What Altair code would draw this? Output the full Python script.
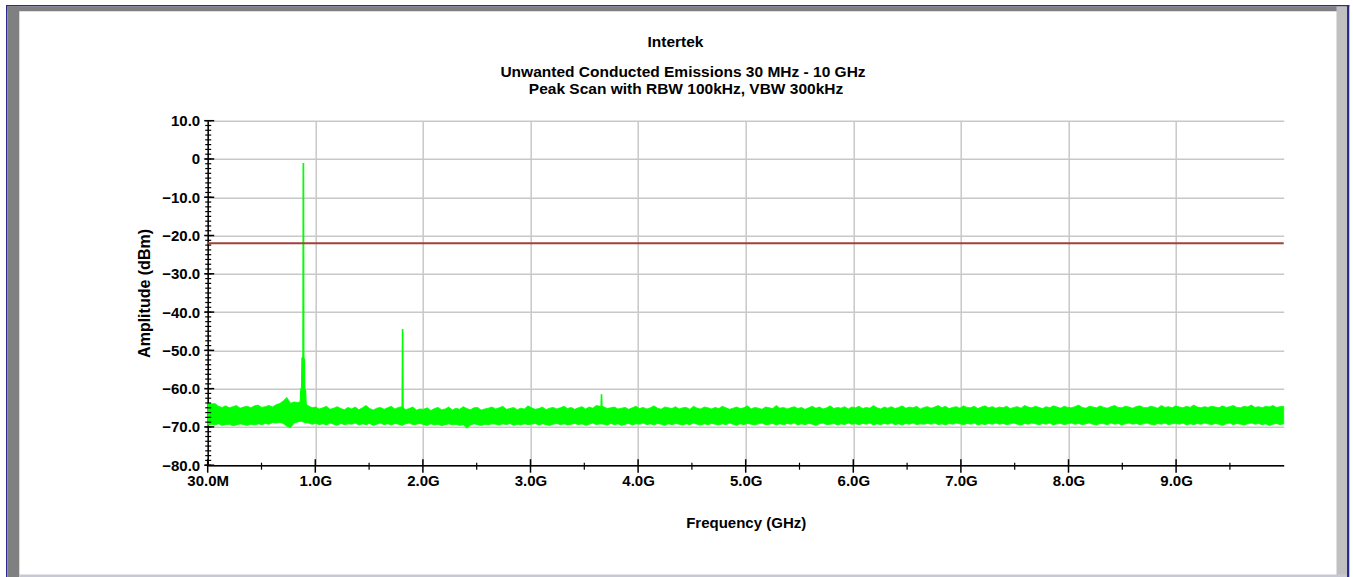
import altair as alt
import pandas as pd

# ---------------- layout (pixels) ----------------
W, H = 1076, 344.5
PAD_L, PAD_T = 207.7, 120.7
PAD_R, PAD_B = 1353 - PAD_L - W, 577 - PAD_T - H
FONT = "Liberation Sans"

# ---------------- text ----------------
title_lines = [
    "Intertek",
    "Unwanted Conducted Emissions 30 MHz - 10 GHz",
    "Peak Scan with RBW 100kHz, VBW 300kHz",
]
x_title = "Frequency (GHz)"
y_title = "Amplitude (dBm)"

# ---------------- axes ----------------
x_domain = [0.03, 10.0]
y_domain = [-80, 10]
x_major = [0.03, 1.027, 2.024, 3.021, 4.018, 5.015, 6.012, 7.009, 8.006, 9.003]
x_minor = [0.5285, 1.5255, 2.5225, 3.5195, 4.5165, 5.5135, 6.5105, 7.5075, 8.5045, 9.5015]
y_major = [10, 0, -10, -20, -30, -40, -50, -60, -70, -80]
y_minor = [-80 + 1.25 * i for i in range(73)]

# ---------------- data ----------------
limit_level = [-22.0]

noise_upper = [
    -63.8, -64.0, -63.9, -64.6, -64.9, -64.5, -65.0, -64.7, -64.4, -65.1, -64.8, -64.6, -65.0, -64.5, -64.3, -64.9, -64.7, -64.4, -64.8, -64.2,
    -63.9, -63.2, -62.3, -63.8, -63.5, -63.6, -63.4, -64.0, -64.5, -65.0, -64.8, -65.3, -65.0, -64.6, -65.4, -65.1, -64.7, -65.2, -65.5, -64.9,
    -65.3, -64.8, -65.5, -65.0, -64.4, -65.2, -65.6, -65.1, -64.9, -65.4, -65.0, -64.6, -65.3, -64.9, -64.7, -65.5, -65.2, -64.8, -65.6, -65.3,
    -65.4, -65.0, -65.7, -65.2, -64.9, -65.5, -65.3, -64.8, -65.6, -65.1, -65.4, -64.7, -65.2, -65.5, -65.0, -64.9, -65.6, -65.3, -65.1, -64.8,
    -65.3, -65.0, -64.6, -65.4, -65.2, -64.9, -65.5, -65.1, -65.3, -64.5, -65.0, -65.4, -65.2, -64.8, -65.5, -65.1, -64.9, -65.3, -65.0, -64.6,
    -65.2, -64.9, -65.4, -65.0, -64.7, -65.3, -64.8, -65.1, -64.4, -64.6, -64.7, -65.2, -65.0, -64.8, -65.3, -65.1, -64.9, -65.4, -65.0, -64.6,
    -65.2, -64.9, -65.3, -65.0, -64.5, -65.1, -65.4, -64.8, -65.0, -65.2, -64.7, -65.3, -65.0, -64.9, -65.4, -64.6, -65.1, -65.3, -64.8, -65.0,
    -65.3, -64.9, -65.2, -64.6, -65.0, -65.4, -65.1, -64.8, -65.2, -65.0, -64.5, -65.3, -64.9, -65.1, -65.4, -64.8, -65.0, -65.2, -64.4, -65.1,
    -64.9, -65.3, -65.0, -64.7, -65.2, -64.9, -65.4, -65.0, -64.6, -65.1, -64.8, -65.3, -65.0, -64.5, -65.2, -64.9, -65.1, -64.7, -65.3, -64.8,
    -65.0, -64.6, -65.2, -64.9, -65.1, -64.4, -65.0, -65.3, -64.8, -65.1, -64.7, -65.2, -64.9, -64.5, -65.1, -64.8, -65.0, -64.6, -65.3, -64.9,
    -64.7, -65.1, -64.8, -64.4, -65.0, -64.6, -65.2, -64.9, -64.7, -65.1, -64.5, -64.9, -65.0, -64.6, -65.2, -64.8, -64.5, -65.0, -64.7, -65.1,
    -64.8, -65.0, -64.6, -65.2, -64.9, -64.7, -65.1, -64.4, -64.8, -65.0, -64.6, -64.9, -65.2, -64.7, -65.0, -64.5, -64.8, -65.1, -64.6, -64.9,
    -65.0, -64.7, -64.3, -64.9, -65.1, -64.6, -64.8, -65.0, -64.5, -64.9, -65.1, -64.7, -64.4, -64.9, -65.0, -64.6, -64.8, -65.1, -64.7, -64.5,
    -64.9, -65.0, -64.6, -64.8, -65.1, -64.4, -64.9, -64.7, -65.0, -64.5, -64.8, -65.0, -64.6, -64.9, -64.3, -64.8, -65.0, -64.7, -64.9, -64.6,
    -64.8, -65.0, -64.5, -64.9, -64.7, -64.4, -64.9, -65.0, -64.6, -64.8, -64.3, -64.9, -64.7, -65.0, -64.6, -64.8, -64.4, -64.9, -64.7, -64.6,
]
noise_lower = [
    -69.6, -69.3, -69.5, -69.2, -69.6, -69.4, -69.3, -69.7, -69.5, -69.2, -69.4, -69.6, -69.3, -69.5, -69.2, -69.4, -69.1, -69.3, -68.9, -69.0,
    -68.8, -69.1, -69.8, -70.2, -69.0, -68.7, -68.5, -68.9, -69.0, -69.3, -69.1, -69.4, -69.2, -69.5, -69.0, -69.3, -69.6, -69.1, -69.4, -69.2,
    -69.3, -69.0, -69.5, -69.2, -69.4, -69.1, -69.6, -69.3, -69.0, -69.4, -69.2, -69.5, -69.1, -69.3, -69.6, -69.2, -69.0, -69.4, -69.3, -69.1,
    -69.4, -69.6, -69.2, -69.5, -69.3, -69.7, -69.4, -69.2, -69.5, -69.3, -69.6, -69.4, -70.3, -69.5, -69.2, -69.4, -69.6, -69.3, -69.5, -69.2,
    -69.3, -69.5, -69.2, -69.4, -69.1, -69.6, -69.3, -69.5, -69.2, -69.4, -69.3, -69.1, -69.5, -69.2, -69.4, -69.6, -69.3, -69.1, -69.4, -69.2,
    -69.5, -69.3, -69.1, -69.4, -69.2, -69.6, -69.3, -69.0, -69.4, -69.2, -69.3, -69.5, -69.1, -69.4, -69.2, -69.6, -69.3, -69.1, -69.5, -69.2,
    -69.3, -69.0, -69.4, -69.2, -69.5, -69.1, -69.3, -69.6, -69.2, -69.4, -69.1, -69.3, -69.5, -69.2, -69.4, -69.0, -69.3, -69.5, -69.2, -69.4,
    -69.1, -69.3, -69.5, -69.2, -69.4, -69.0, -69.3, -69.6, -69.2, -69.4, -69.1, -69.3, -69.5, -69.2, -69.0, -69.4, -69.3, -69.1, -69.5, -69.2,
    -69.4, -69.1, -69.3, -69.0, -69.5, -69.2, -69.4, -69.1, -69.3, -69.6, -69.2, -69.0, -69.4, -69.3, -69.1, -69.5, -69.2, -69.4, -69.0, -69.3,
    -69.2, -69.4, -69.1, -69.3, -69.0, -69.5, -69.2, -69.4, -69.1, -69.3, -69.0, -69.4, -69.2, -69.5, -69.1, -69.3, -69.0, -69.4, -69.2, -69.3,
    -69.1, -69.3, -69.0, -69.4, -69.2, -69.5, -69.1, -69.3, -69.0, -69.2, -69.4, -69.1, -69.3, -69.0, -69.5, -69.2, -69.4, -69.1, -69.3, -69.0,
    -69.3, -69.1, -69.4, -69.2, -69.0, -69.3, -69.5, -69.1, -69.3, -69.0, -69.2, -69.4, -69.1, -69.3, -69.0, -69.5, -69.2, -69.1, -69.4, -69.2,
    -69.0, -69.3, -69.1, -69.4, -69.2, -69.0, -69.3, -69.5, -69.1, -69.2, -69.4, -69.0, -69.3, -69.1, -69.5, -69.2, -69.0, -69.3, -69.1, -69.4,
    -69.2, -69.0, -69.3, -69.5, -69.1, -69.3, -69.0, -69.4, -69.2, -69.1, -69.3, -69.0, -69.5, -69.2, -69.4, -69.1, -69.3, -69.0, -69.2, -69.4,
    -69.1, -69.3, -69.6, -69.2, -69.0, -69.4, -69.1, -69.3, -69.5, -69.2, -69.0, -69.3, -69.1, -69.4, -69.2, -69.6, -69.3, -69.1, -69.4, -69.2,
]
# sweep points, evenly spaced over the scan span
noise_freq = [x_domain[0] + i * (x_domain[1] - x_domain[0]) / (len(noise_upper) - 1) for i in range(len(noise_upper))]

# discrete spurs (frequency GHz, level dBm)
spur_main_freq = [0.885, 0.893, 0.900, 0.903, 0.912, 0.914, 0.919, 0.921, 0.927, 0.930, 0.937, 0.945]
spur_main_level = [-65.0, -60.0, -59.8, -52.0, -51.8, -1.2, -1.2, -52.0, -52.5, -60.0, -60.5, -65.5]
spur_2_freq = [1.831, 1.834, 1.838, 1.841]
spur_2_level = [-66.0, -44.6, -44.6, -66.0]
spur_3_freq = [3.673, 3.677, 3.681, 3.685]
spur_3_level = [-66.0, -61.6, -61.6, -66.0]
spur_base = -66.0

noise_df = pd.DataFrame({"freq": noise_freq, "upper": noise_upper, "lower": noise_lower})
spur_df = pd.DataFrame({
    "freq": spur_main_freq + spur_2_freq + spur_3_freq,
    "level": spur_main_level + spur_2_level + spur_3_level,
    "spur": ["f0"] * len(spur_main_freq) + ["2f0"] * len(spur_2_freq) + ["4f0"] * len(spur_3_freq),
})
spur_df["base"] = spur_base
limit_df = pd.DataFrame({"level": limit_level})

# ---------------- styling ----------------
GREEN = "#00ff00"
LIMIT = "#a0413c"
GRID = "#c8c8c8"

xs = alt.Scale(domain=x_domain, nice=False, zero=False)
ys = alt.Scale(domain=y_domain, nice=False, zero=False)

x_axis = alt.Axis(
    values=x_major, grid=True, gridColor=GRID, gridWidth=1.5, ticks=False,
    domainColor="black", domainWidth=1.5,
    labelExpr="datum.value < 0.5 ? '30.0M' : format(round(datum.value), '.1f') + 'G'",
    labelFont=FONT, labelFontSize=15, labelFontWeight="bold", labelColor="black",
    labelPadding=8, labelFlush=False, labelOverlap=False,
    title=x_title, titleFont=FONT, titleFontSize=15, titleFontWeight="bold", titleColor="black",
    titleX=W / 2, titleY=57, titleBaseline="middle", titleAlign="center",
)
y_axis = alt.Axis(
    values=y_major, grid=True, gridColor=GRID, gridWidth=1.5, ticks=False,
    domainColor="black", domainWidth=1.5,
    labelExpr="datum.value == 0 ? '0' : format(datum.value, '.1f')",
    labelFont=FONT, labelFontSize=15, labelFontWeight="bold", labelColor="black",
    labelPadding=8, labelFlush=False, labelOverlap=False,
    title=y_title, titleFont=FONT, titleFontSize=16, titleFontWeight="bold", titleColor="black",
    titleX=-63, titleY=H / 2, titleBaseline="middle", titleAlign="center", titleAngle=270,
)

one = alt.Data(values=[{}])


def deco_rect(x0, x1, y0, y1, color):
    return alt.Chart(one).mark_rect(color=color, opacity=1).encode(
        x=alt.value(x0 - PAD_L), x2=alt.value(x1 - PAD_L),
        y=alt.value(y0 - PAD_T), y2=alt.value(y1 - PAD_T),
    )


# panel frame: navy outline, dark top/left bevel, light right/bottom bevel (strips only)
frame = [
    deco_rect(6.0, 1349.3, 5.0, 6.5, "#2c2c8c"),
    deco_rect(6.0, 7.3, 5.0, 577.0, "#2c2c8c"),
    deco_rect(1347.0, 1349.3, 5.0, 577.0, "#2c2c8c"),
    deco_rect(7.3, 1347.0, 6.5, 11.2, "#808080"),
    deco_rect(7.3, 19.3, 6.5, 577.0, "#808080"),
    deco_rect(1336.5, 1347.0, 6.5, 577.0, "#c0c0c0"),
    deco_rect(19.3, 1347.0, 574.6, 577.0, "#c8c8d4"),
]

X = lambda f: alt.X(f, scale=xs, axis=x_axis)
Y = lambda f: alt.Y(f, scale=ys, axis=y_axis)

noise = alt.Chart(noise_df).mark_area(color=GREEN, opacity=1, stroke=GREEN, strokeWidth=0.8).encode(
    x=X("freq:Q"), y=Y("upper:Q"), y2="lower:Q",
)
spurs = alt.Chart(spur_df).mark_area(color=GREEN, opacity=1, stroke=GREEN, strokeWidth=1.2).encode(
    x=X("freq:Q"), y=Y("level:Q"), y2="base:Q", detail="spur:N",
)
limit = alt.Chart(limit_df).mark_rule(color=LIMIT, strokeWidth=2).encode(y=Y("level:Q"))


def tick_rules_y(vals, a, b, width):
    return alt.Chart(pd.DataFrame({"v": vals})).mark_rule(color="black", strokeWidth=width).encode(
        y=Y("v:Q"), x=alt.value(a), x2=alt.value(b)
    )


def tick_rules_x(vals, a, b, width):
    return alt.Chart(pd.DataFrame({"v": vals})).mark_rule(color="black", strokeWidth=width).encode(
        x=X("v:Q"), y=alt.value(H + a), y2=alt.value(H + b)
    )


ticks = [
    tick_rules_y(y_minor, -2.5, 3.5, 1.2),
    tick_rules_y(y_major, -3.5, 6.5, 1.5),
    tick_rules_x(x_minor, -2.5, 4.5, 1.2),
    tick_rules_x(x_major, -6.0, 7.5, 1.5),
]


def title_text(txt, cx, baseline_y, size):
    return alt.Chart(one).mark_text(
        text=txt, font=FONT, fontSize=size, fontWeight="bold", color="black",
        align="center", baseline="alphabetic",
    ).encode(x=alt.value(cx - PAD_L), y=alt.value(baseline_y - PAD_T))


titles = [
    title_text(title_lines[0], 675.5, 46.5, 15.5),
    title_text(title_lines[1], 683.0, 76.5, 15.5),
    title_text(title_lines[2], 686.0, 93.5, 15.5),
]

chart = alt.layer(*frame, noise, spurs, limit, *ticks, *titles).properties(
    width=W, height=H,
    padding={"left": PAD_L, "top": PAD_T, "right": PAD_R, "bottom": PAD_B},
    autosize=alt.AutoSizeParams(type="none"),
    background="white",
).configure_view(stroke=None)

chart.save("out.html", embed_options={"renderer": "svg", "actions": False})
